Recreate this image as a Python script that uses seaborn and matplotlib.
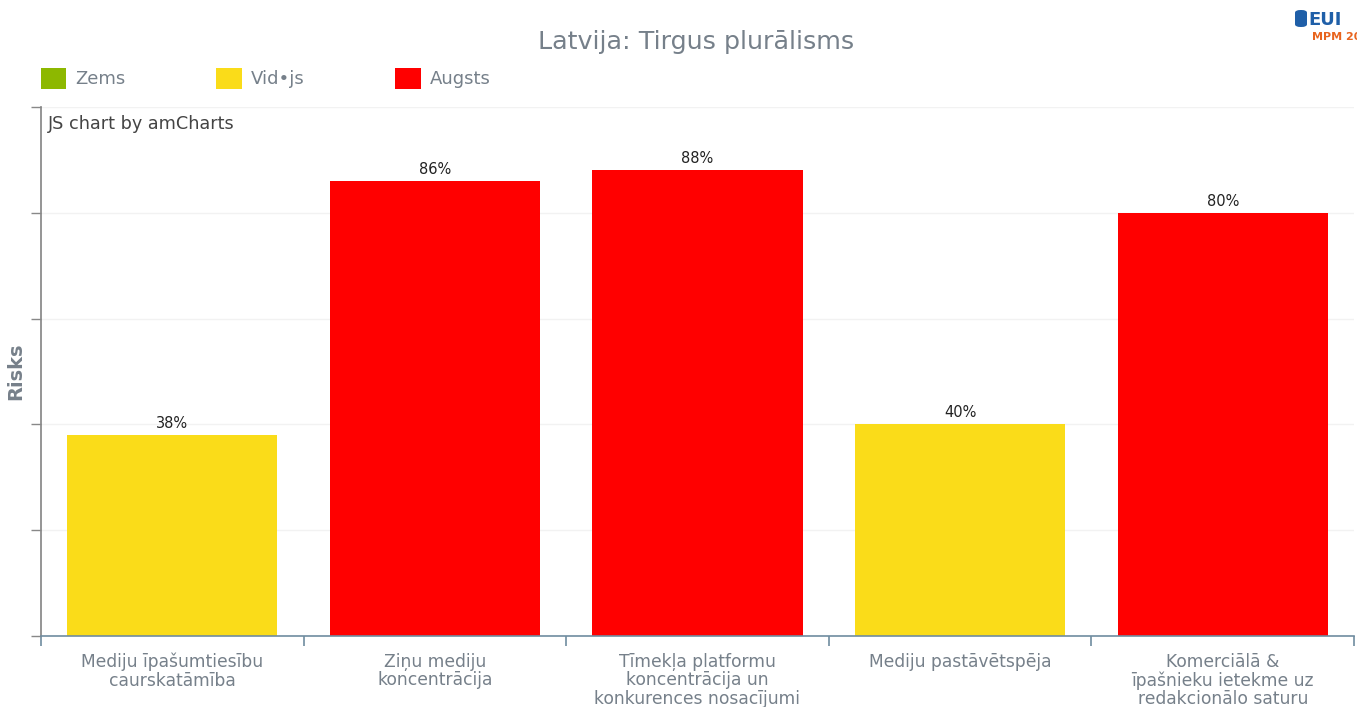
import matplotlib
matplotlib.use("Agg")
import matplotlib.pyplot as plt
import numpy as np
import pandas as pd
import seaborn as sns
from matplotlib.patches import Patch, FancyBboxPatch

# ---- data ----
categories = [
    "Mediju īpašumtiesību\ncaurskatāmība",
    "Ziņu mediju\nkoncentrācija",
    "Tīmekļa platformu\nkoncentrācija un\nkonkurences nosacījumi",
    "Mediju pastāvētspēja",
    "Komerciālā &\nīpašnieku ietekme uz\nredakcionālo saturu",
]
values = [38, 86, 88, 40, 80]
levels = ["Vid•js", "Augsts", "Augsts", "Vid•js", "Augsts"]

level_names = ["Zems", "Vid•js", "Augsts"]
level_colors = ["#8DB800", "#FADC19", "#FF0000"]

C_TEXT = "#76808A"
C_AXIS = "#6F8CA0"

sns.set_theme(style="white")
plt.rcParams["font.family"] = ["DejaVu Sans"]

df = pd.DataFrame({"cat": categories, "val": values, "level": levels})
palette = dict(zip(level_names, level_colors))

fig = plt.figure(figsize=(13.57, 7.07), dpi=100)
ax = fig.add_axes([41 / 1357, 1 - 636 / 707, (1354 - 41) / 1357, (636 - 107) / 707])

sns.barplot(data=df, x="cat", y="val", hue="level", palette=palette,
            dodge=False, width=0.8, legend=False, ax=ax, saturation=1,
            edgecolor="none")

for c in ax.containers:
    ax.bar_label(c, labels=[f"{v:.0f}%" if v == v and v > 0 else "" for v in c.datavalues],
                 padding=3, fontsize=10.5, color="#222222")

ax.set_ylim(0, 100)
ax.set_xlim(-0.5, len(categories) - 0.5)
ax.set_yticks(np.arange(0, 101, 20))
ax.set_yticklabels([])
ax.tick_params(axis="y", left=True, length=7, color="#888888", width=1)
ax.yaxis.grid(True, color="#F2F2F2", linewidth=1)
ax.set_axisbelow(True)

ax.set_xticks(range(len(categories)))
ax.set_xticklabels(categories, fontsize=12.3, color=C_TEXT, linespacing=1.03)
ax.tick_params(axis="x", which="major", length=0, pad=12)
ax.set_xticks(np.arange(-0.5, len(categories), 1), minor=True)
ax.tick_params(axis="x", which="minor", bottom=True, length=7, color=C_AXIS, width=1.2)

ax.set_xlabel("")
ax.set_ylabel("Risks", fontsize=14, fontweight="bold", color=C_TEXT)
ax.yaxis.set_label_coords((25 - 41) / 1313, 0.5)

for s in ["top", "right"]:
    ax.spines[s].set_visible(False)
ax.spines["left"].set_color("#888888")
ax.spines["bottom"].set_color(C_AXIS)
ax.spines["bottom"].set_linewidth(1.2)

ax.text(0.005, 0.967, "JS chart by amCharts", transform=ax.transAxes,
        fontsize=12.7, color="#444444", va="center", ha="left")

fig.suptitle("Latvija: Tirgus plurālisms", x=0.513, y=0.941, fontsize=18.3,
             color=C_TEXT, va="center")

handles = [Patch(facecolor=c, edgecolor="none") for c in level_colors]
fig.legend(handles, level_names, loc="center left", bbox_to_anchor=(0.0183, 0.889),
           ncol=3, frameon=False, fontsize=13, labelcolor=C_TEXT,
           handlelength=1.4, handleheight=1.4, handletextpad=0.5,
           columnspacing=5.03)

# EUI logo (clipped at the right edge in the original)
fig.patches.append(FancyBboxPatch((1295 / 1357, 1 - 27 / 707), 12 / 1357, 17 / 707,
                                  boxstyle="round,pad=0,rounding_size=0.004",
                                  transform=fig.transFigure, facecolor="#1F5FA8",
                                  edgecolor="none"))
fig.text(1308 / 1357, 0.972, "EUI", fontsize=13, fontweight="bold", color="#1F5FA8",
         va="center", ha="left")
fig.text(1312 / 1357, 0.948, "MPM 20", fontsize=8, fontweight="bold", color="#E8641E",
         va="center", ha="left")

fig.savefig("out.png", dpi=100, facecolor="white")
